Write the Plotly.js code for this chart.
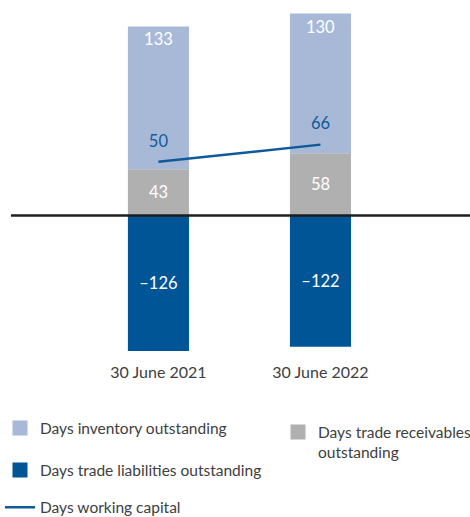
<!DOCTYPE html>
<html><head><meta charset="utf-8">
<script src="https://cdn.plot.ly/plotly-3.0.1.min.js"></script>
<style>html,body{margin:0;padding:0;background:#fff}#chart{width:470px;height:517px}</style>
</head><body><div id="chart"></div>
<script>
const categories = ['30 June 2021', '30 June 2022'];
const inventoryDays = [133, 130];
const receivablesDays = [43, 58];
const liabilitiesDays = [-126, -122];
const workingCapitalDays = [50, 66];
const seriesNames = ['Days inventory outstanding', 'Days trade receivables<br>outstanding', 'Days trade liabilities outstanding', 'Days working capital'];

const C_INV = '#a8b9d8', C_REC = '#b0b0b0', C_LIA = '#005596', C_LINE = '#0f5a9a';
const FONT = 'Lato, "Open Sans", sans-serif';
const TXT = '#404040';
const fmt = v => v < 0 ? '\u2013' + Math.abs(v) : String(v);
const VAL_SIZE = 16.5;

const traces = [
  {type:'bar', x:categories, y:receivablesDays, marker:{color:C_REC}, showlegend:false,
   text:receivablesDays.map(fmt), textposition:'inside', insidetextanchor:'middle',
   textfont:{color:'#ffffff', size:VAL_SIZE, family:FONT}, hoverinfo:'skip'},
  {type:'bar', x:categories, y:inventoryDays, marker:{color:C_INV}, showlegend:false,
   text:inventoryDays.map(fmt), textposition:'inside', insidetextanchor:'end',
   textfont:{color:'#ffffff', size:VAL_SIZE, family:FONT}, hoverinfo:'skip'},
  {type:'bar', x:categories, y:liabilitiesDays, marker:{color:C_LIA}, showlegend:false,
   text:liabilitiesDays.map(fmt), textposition:'inside', insidetextanchor:'middle',
   textfont:{color:'#ffffff', size:VAL_SIZE, family:FONT}, hoverinfo:'skip'},
  {type:'scatter', mode:'lines+markers+text', x:categories, y:workingCapitalDays, name:seriesNames[3],
   line:{color:C_LINE, width:2.5}, marker:{size:16, color:'rgba(0,0,0,0)'},
   text:workingCapitalDays.map(fmt), textposition:'top center',
   textfont:{color:C_LINE, size:VAL_SIZE, family:FONT}, legend:'legend4', hoverinfo:'skip'},
  {type:'scatter', mode:'markers', x:[categories[0]], y:[null], name:seriesNames[0], legend:'legend',
   marker:{symbol:'square', size:15, color:C_INV}},
  {type:'scatter', mode:'markers', x:[categories[0]], y:[null], name:seriesNames[1], legend:'legend2',
   marker:{symbol:'square', size:15, color:C_REC}},
  {type:'scatter', mode:'markers', x:[categories[0]], y:[null], name:seriesNames[2], legend:'legend3',
   marker:{symbol:'square', size:15, color:C_LIA}}
];

const legBase = {xref:'container', yref:'container', xanchor:'left', bgcolor:'rgba(0,0,0,0)',
  borderwidth:0, font:{family:FONT, size:15.5, color:TXT}};

const layout = {
  width:470, height:517,
  margin:{l:11, r:0, t:6, b:161, autoexpand:false},
  paper_bgcolor:'#ffffff', plot_bgcolor:'#ffffff',
  barmode:'relative', bargap:0.623,
  font:{family:FONT, size:15, color:TXT},
  xaxis:{type:'category', categoryarray:categories, categoryorder:'array', range:[-0.91, 1.923],
    showline:false, showgrid:false, zeroline:false, ticklabelstandoff:5,
    ticks:'', tickfont:{family:FONT, size:16, color:TXT}, fixedrange:true},
  yaxis:{range:[-130.7, 195], visible:false, showgrid:false, zeroline:false, fixedrange:true},
  shapes:[{type:'line', xref:'paper', x0:0, x1:1, yref:'y', y0:0, y1:0, layer:'above',
    line:{color:'#1e1e1e', width:2.5}}],
  showlegend:true,
  legend: Object.assign({}, legBase, {x:0, y:1-428.5/517, yanchor:'middle'}),
  legend2: Object.assign({}, legBase, {x:278/470, y:1-415.5/517, yanchor:'top', valign:'top', tracegroupgap:0}),
  legend3: Object.assign({}, legBase, {x:0, y:1-470.5/517, yanchor:'middle'}),
  legend4: Object.assign({}, legBase, {x:0, y:1-507.7/517, yanchor:'middle'})
};

Plotly.newPlot('chart', traces, layout, {displayModeBar:false, staticPlot:true});
</script></body></html>
